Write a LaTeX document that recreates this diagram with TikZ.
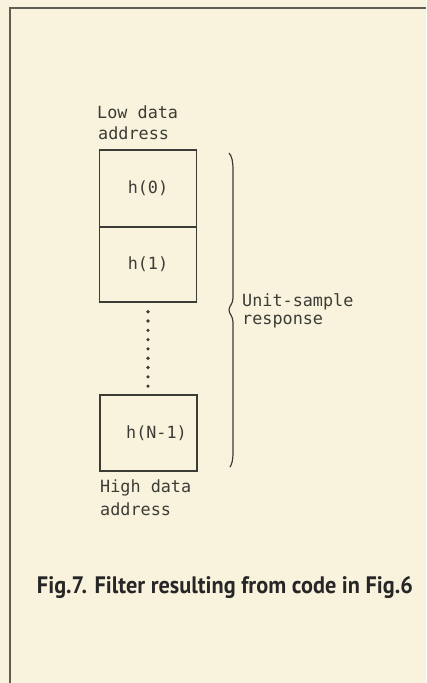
\documentclass[tikz,border=0pt]{standalone}
\usepackage{fontspec}
\setmainfont{DejaVu Sans Mono}
\newfontfamily\capfont{PT Sans}
\definecolor{paper}{HTML}{F9F3DE}
\definecolor{ink}{HTML}{3C3C36}
\definecolor{frame}{HTML}{5E5E52}
\begin{document}
\begin{tikzpicture}[x=1pt,y=-1pt,
  lbl/.style={font=\fontsize{16.8}{18}\selectfont, text=ink, inner sep=0pt},
  cell/.style={draw=ink, line width=1.4pt, minimum width=97pt, inner sep=0pt, font=\fontsize{16.8}{18}\selectfont, text=ink},
  dotmark/.style={circle, fill=ink, inner sep=0pt, minimum size=3.6pt}]
\fill[paper] (0,0) rectangle (426,683);
\useasboundingbox (0,0) rectangle (426,683);
% frame
\draw[frame, line width=1.6pt] (10,683) -- (10,8) -- (426,8);
% labels top
\node[lbl, anchor=west] (low1) at (97,112) {Low data};
\node[lbl, anchor=west] (low2) at (98,133) {address};
% cells
\node[cell, minimum height=77pt] (h0) at (148,188.5) {h(0)};
\node[cell, minimum height=75pt] (h1) at (148,264.5) {h(1)};
\node[cell, minimum height=76pt] (hn) at (148.5,433) {\hspace*{16pt}h(N-1)};
% dots
\foreach \i in {0,...,8} {
  \node[dotmark] (d\i) at (148,{311.7+\i*9.3}) {};
}
% bottom labels
\node[lbl, anchor=west] (high1) at (100,488) {High data};
\node[lbl, anchor=west] (high2) at (100,509) {address};
% brace
\coordinate (bt) at (229,153);
\coordinate (bm) at (229,310);
\coordinate (bb) at (230,467);
\draw[ink, line width=1.2pt] (bt) .. controls (232,156) and (233,162) .. (233,170)
  -- (233,298) .. controls (233,304) and (229,306) .. (bm)
  .. controls (229,314) and (233,316) .. (233,322)
  -- (233,452) .. controls (233,460) and (232,464) .. (bb);
\node[lbl, anchor=west] (u1) at (242,302) {Unit-sample};
\node[lbl, anchor=west] (u2) at (242,322) {response};
% caption
\node[inner sep=0pt, text=black!85, anchor=center] (cap) at (225,588)
  {\resizebox{376pt}{17pt}{\capfont\bfseries Fig.7. Filter resulting from code in Fig.6}};
\end{tikzpicture}
\end{document}
